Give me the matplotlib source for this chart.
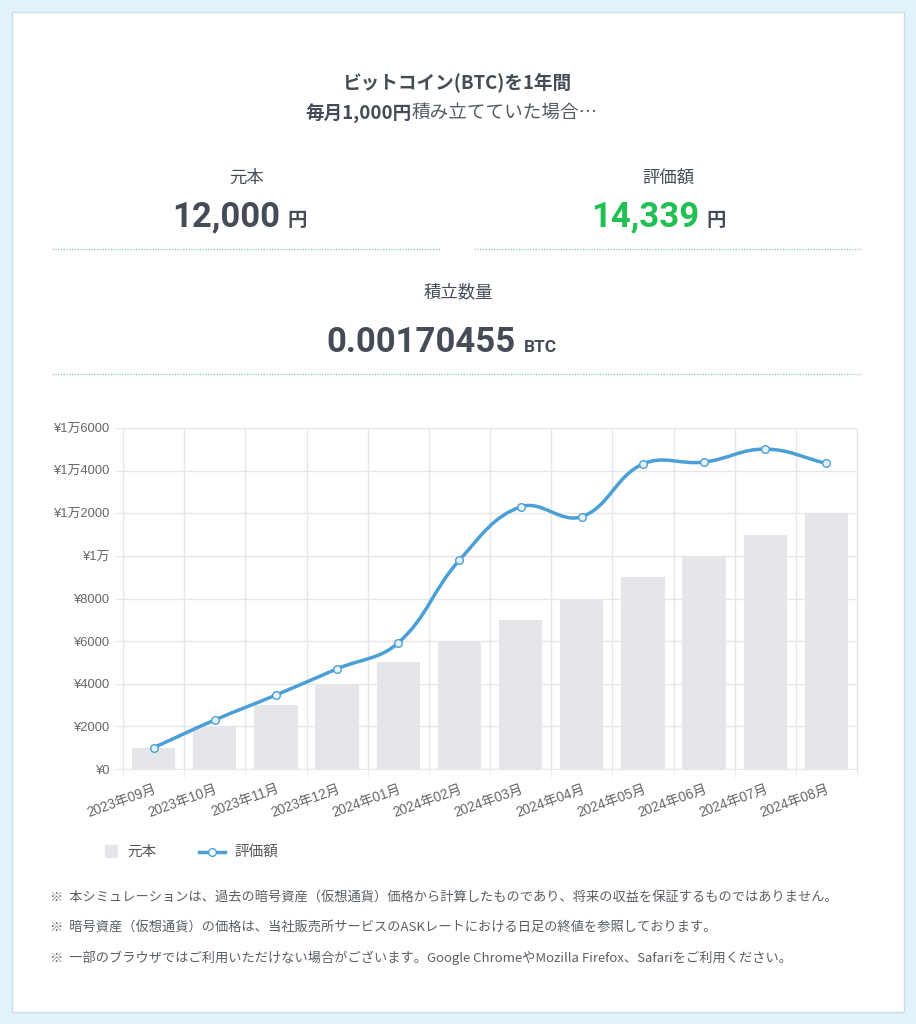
import numpy as np
import matplotlib
matplotlib.use("Agg")
import matplotlib.pyplot as plt
from matplotlib.path import Path
from matplotlib.patches import PathPatch, Rectangle
from matplotlib.lines import Line2D

# data
months = ["2023年09月", "2023年10月", "2023年11月", "2023年12月", "2024年01月", "2024年02月",
          "2024年03月", "2024年04月", "2024年05月", "2024年06月", "2024年07月", "2024年08月"]
principal = [1000, 2000, 3000, 4000, 5000, 6000, 7000, 8000, 9000, 10000, 11000, 12000]
valuation = [1000, 2300, 3470, 4700, 5920, 9800, 12300, 11840, 14310, 14400, 15010, 14339]
yticks = [0, 2000, 4000, 6000, 8000, 10000, 12000, 14000, 16000]
ytick_labels = ["¥0", "¥2000", "¥4000", "¥6000", "¥8000", "¥1万", "¥1万2000", "¥1万4000", "¥1万6000"]

JP = ["Noto Sans CJK JP", "DejaVu Sans"]
TICK = ["Liberation Sans", "Noto Sans CJK JP"]
NUM = ["Roboto", "Noto Sans CJK JP"]
DARK = "#454c57"
LINE_C = "#4a9fd6"
BAR_C = "#e5e6ea"
GRID_C = "#e6e6e6"

W, H = 916, 1024
fig = plt.figure(figsize=(W / 100, H / 100), dpi=100)
fig.patch.set_facecolor("#e3f1fb")

def fx(x):
    return x / W

def fy(y):
    return 1 - y / H

# white card
fig.patches.append(Rectangle((fx(12), fy(1012)), fx(892), 1000 / H, transform=fig.transFigure,
                             facecolor="white", edgecolor="#c9dcea", lw=1, zorder=-10))

# header
fig.text(fx(458), fy(82), "ビットコイン(BTC)を1年間", family=JP, weight="bold", fontsize=13.4,
         color=DARK, ha="center", va="center")
fig.text(fx(412), fy(113), "毎月1,000円", family=JP, weight="bold", fontsize=13.4,
         color=DARK, ha="right", va="center")
fig.text(fx(412), fy(113), "積み立てていた場合…", family=JP, fontsize=13.4,
         color="#555b64", ha="left", va="center")

# summary blocks
fig.text(fx(247), fy(178), "元本", family=JP, fontsize=12.5, color=DARK, ha="center", va="center")
fig.text(fx(668), fy(178), "評価額", family=JP, fontsize=12.5, color=DARK, ha="center", va="center")
fig.text(fx(458), fy(292), "積立数量", family=JP, fontsize=12.5, color=DARK, ha="center", va="center")

fig.text(fx(280), fy(217), "12,000", family=NUM, weight="bold", fontsize=25, color=DARK,
         ha="right", va="center")
fig.text(fx(287), fy(220), "円", family=JP, weight="bold", fontsize=14, color=DARK, ha="left", va="center")
fig.text(fx(699), fy(217), "14,339", family=NUM, weight="bold", fontsize=25, color="#20c152",
         ha="right", va="center")
fig.text(fx(706), fy(220), "円", family=JP, weight="bold", fontsize=14, color=DARK, ha="left", va="center")
fig.text(fx(516), fy(343), "0.00170455", family=NUM, weight="bold", fontsize=25, color=DARK,
         ha="right", va="center")
fig.text(fx(524), fy(347), "BTC", family=NUM, weight="bold", fontsize=12.5, color=DARK,
         ha="left", va="center")

for x0, x1, y in [(52, 441, 249), (474, 861, 249), (52, 861, 374)]:
    fig.lines.append(Line2D([fx(x0), fx(x1)], [fy(y), fy(y)], transform=fig.transFigure,
                            color="#a9c9c6", lw=1, ls=(0, (1, 1))))

# chart
ax = fig.add_axes([fx(123), fy(769), fx(857 - 123), (769 - 428) / H])
ax.set_zorder(1)
x = np.arange(len(months))
ax.bar(x, principal, width=0.71, color=BAR_C, zorder=2)

# chart.js style bezier (tension 0.4) computed in pixel space
sx, sy = (857 - 123) / len(months), 341 / 16000
px = x * sx
py = np.array(valuation) * sy
t = 0.4
cp_prev = np.zeros((len(px), 2))
cp_next = np.zeros((len(px), 2))
for i in range(len(px)):
    p1 = np.array([px[i], py[i]])
    p0 = np.array([px[max(i - 1, 0)], py[max(i - 1, 0)]])
    p2 = np.array([px[min(i + 1, len(px) - 1)], py[min(i + 1, len(px) - 1)]])
    d01 = np.hypot(*(p1 - p0))
    d12 = np.hypot(*(p2 - p1))
    tot = d01 + d12 if d01 + d12 > 0 else 1
    cp_prev[i] = p1 - t * d01 / tot * (p2 - p0)
    cp_next[i] = p1 + t * d12 / tot * (p2 - p0)
verts = [(x[0], valuation[0])]
codes = [Path.MOVETO]
for i in range(len(px) - 1):
    verts += [(cp_next[i][0] / sx, cp_next[i][1] / sy),
              (cp_prev[i + 1][0] / sx, cp_prev[i + 1][1] / sy),
              (x[i + 1], valuation[i + 1])]
    codes += [Path.CURVE4] * 3
ax.add_patch(PathPatch(Path(verts, codes), facecolor="none", edgecolor=LINE_C, lw=2.5, zorder=3))
ax.plot(x, valuation, ls="none", marker="o", ms=5.5, mfc="#e6f1fa", mec=LINE_C, mew=1, zorder=4)

ax.set_xlim(-0.5, len(months) - 0.5)
ax.set_ylim(0, 16000)
ax.set_yticks(yticks)
ax.set_yticklabels(ytick_labels, family=TICK, fontsize=9.3, color="#666666")
ax.set_xticks(x)
ax.set_xticklabels(months, family=TICK, fontsize=9.8, color="#666666", rotation=20,
                   ha="right", rotation_mode="anchor")
ax.set_xticks(np.arange(len(months) + 1) - 0.5, minor=True)
ax.grid(True, which="minor", axis="x", color=GRID_C, lw=1, zorder=0)
ax.grid(True, which="major", axis="y", color=GRID_C, lw=1, zorder=0)
ax.set_axisbelow(True)
for lbl in ax.get_xticklabels():
    lbl.set_x(lbl.get_position()[0])
ax.tick_params(axis="x", which="major", length=0, pad=9)
ax.tick_params(axis="x", which="minor", length=6, color=GRID_C)
ax.tick_params(axis="y", length=6, color=GRID_C, pad=4)
for s in ax.spines.values():
    s.set_color(GRID_C)

# legend
fig.patches.append(Rectangle((fx(105), fy(858)), fx(13), 13 / H, transform=fig.transFigure,
                             facecolor=BAR_C, edgecolor="none"))
fig.text(fx(127), fy(852), "元本", family=JP, fontsize=10.5, color="#555555", va="center")
fig.lines.append(Line2D([fx(199), fx(225)], [fy(852), fy(852)], transform=fig.transFigure,
                        color=LINE_C, lw=2.5))
fig.lines.append(Line2D([fx(212)], [fy(852)], transform=fig.transFigure, marker="o", ms=5.5,
                        mfc="white", mec=LINE_C, mew=1, ls="none"))
fig.text(fx(234), fy(852), "評価額", family=JP, fontsize=10.5, color="#555555", va="center")

# notes
notes = [
    "※  本シミュレーションは、過去の暗号資産（仮想通貨）価格から計算したものであり、将来の収益を保証するものではありません。",
    "※  暗号資産（仮想通貨）の価格は、当社販売所サービスのASKレートにおける日足の終値を参照しております。",
    "※  一部のブラウザではご利用いただけない場合がございます。Google ChromeやMozilla Firefox、Safariをご利用ください。",
]
for i, n in enumerate(notes):
    fig.text(fx(50), fy(897 + i * 30.5), n, family=JP, fontsize=9.5, color="#5a5f66", va="center")

fig.savefig("out.png", dpi=100, facecolor=fig.get_facecolor())
